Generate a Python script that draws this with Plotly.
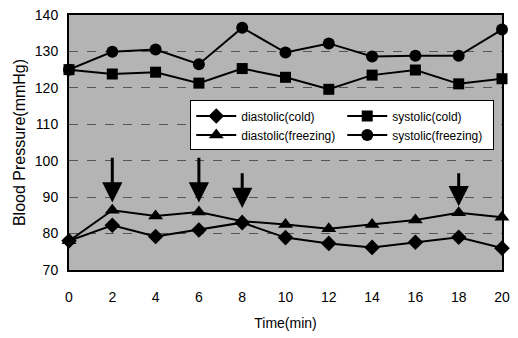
import plotly.graph_objects as go

time_min = [0, 2, 4, 6, 8, 10, 12, 14, 16, 18, 20]
diastolic_cold = [78, 82.3, 79.2, 81, 83, 78.9, 77.3, 76.2, 77.6, 79, 76]
systolic_cold = [125, 123.8, 124.3, 121.3, 125.3, 122.9, 119.6, 123.5, 124.9, 121.1, 122.5]
diastolic_freezing = [78, 86.4, 84.8, 85.9, 83.4, 82.5, 81.3, 82.5, 83.7, 85.7, 84.5]
systolic_freezing = [125, 129.9, 130.5, 126.5, 136.5, 129.7, 132.2, 128.6, 128.8, 128.8, 136]

arrow_x = [2, 6, 8, 18]
arrow_top = [101.2, 101.2, 97, 97]
arrow_tip = [88.5, 88.5, 87, 87.5]

y_ticks = [70, 80, 90, 100, 110, 120, 130, 140]
x_ticks = [0, 2, 4, 6, 8, 10, 12, 14, 16, 18, 20]

FONT = "Liberation Sans, Arial, sans-serif"

series = [
    ("diastolic(cold)", diastolic_cold, "diamond", 12),
    ("systolic(cold)", systolic_cold, "square", 11),
    ("diastolic(freezing)", diastolic_freezing, "triangle-up", 13),
    ("systolic(freezing)", systolic_freezing, "circle", 12),
]

fig = go.Figure()
for name, vals, sym, sz in series:
    fig.add_trace(go.Scatter(
        x=time_min, y=vals, name=name, mode="lines+markers",
        line=dict(color="black", width=2),
        marker=dict(symbol=sym, size=sz, color="black"),
        cliponaxis=False,
    ))

for ax_, top, tip in zip(arrow_x, arrow_top, arrow_tip):
    fig.add_annotation(
        x=ax_, y=tip, ax=ax_, ay=top, xref="x", yref="y", axref="x", ayref="y",
        showarrow=True, arrowhead=2, arrowsize=1.35, arrowwidth=3,
        arrowcolor="black", text="",
    )

# the page body adds an 8 px offset, so the figure is kept smaller
fig.update_layout(
    width=502, height=330,
    margin=dict(l=61, r=8, t=7, b=68),
    paper_bgcolor="white",
    plot_bgcolor="#b4b4b4",
    font=dict(family=FONT, size=14, color="black"),
    showlegend=True,
    legend=dict(
        orientation="h", x=0.28, y=0.665, xanchor="left", yanchor="top",
        bgcolor="white", bordercolor="black", borderwidth=1,
        entrywidth=96, entrywidthmode="pixels",
        font=dict(family=FONT, size=12, color="black"),
        tracegroupgap=0, itemwidth=40,
    ),
)
fig.update_xaxes(
    range=[0, 20], tickvals=x_ticks, showgrid=False, zeroline=False,
    showline=True, linecolor="black", linewidth=2, mirror=True,
    ticklabelstandoff=13, tickfont=dict(size=14), automargin=False,
    ticklabeloverflow="allow",
    title=dict(text="Time(min)", font=dict(size=14), standoff=14),
)
fig.update_yaxes(
    range=[70, 140], tickvals=y_ticks, showgrid=True, gridcolor="#555555",
    griddash="dash", gridwidth=1, zeroline=False,
    showline=True, linecolor="black", linewidth=2, mirror=True,
    ticklabelstandoff=6, tickfont=dict(size=14), automargin=False,
    ticklabeloverflow="allow",
    title=dict(text="Blood Pressure(mmHg)", font=dict(size=16), standoff=5),
)

fig.write_html("out.html")
